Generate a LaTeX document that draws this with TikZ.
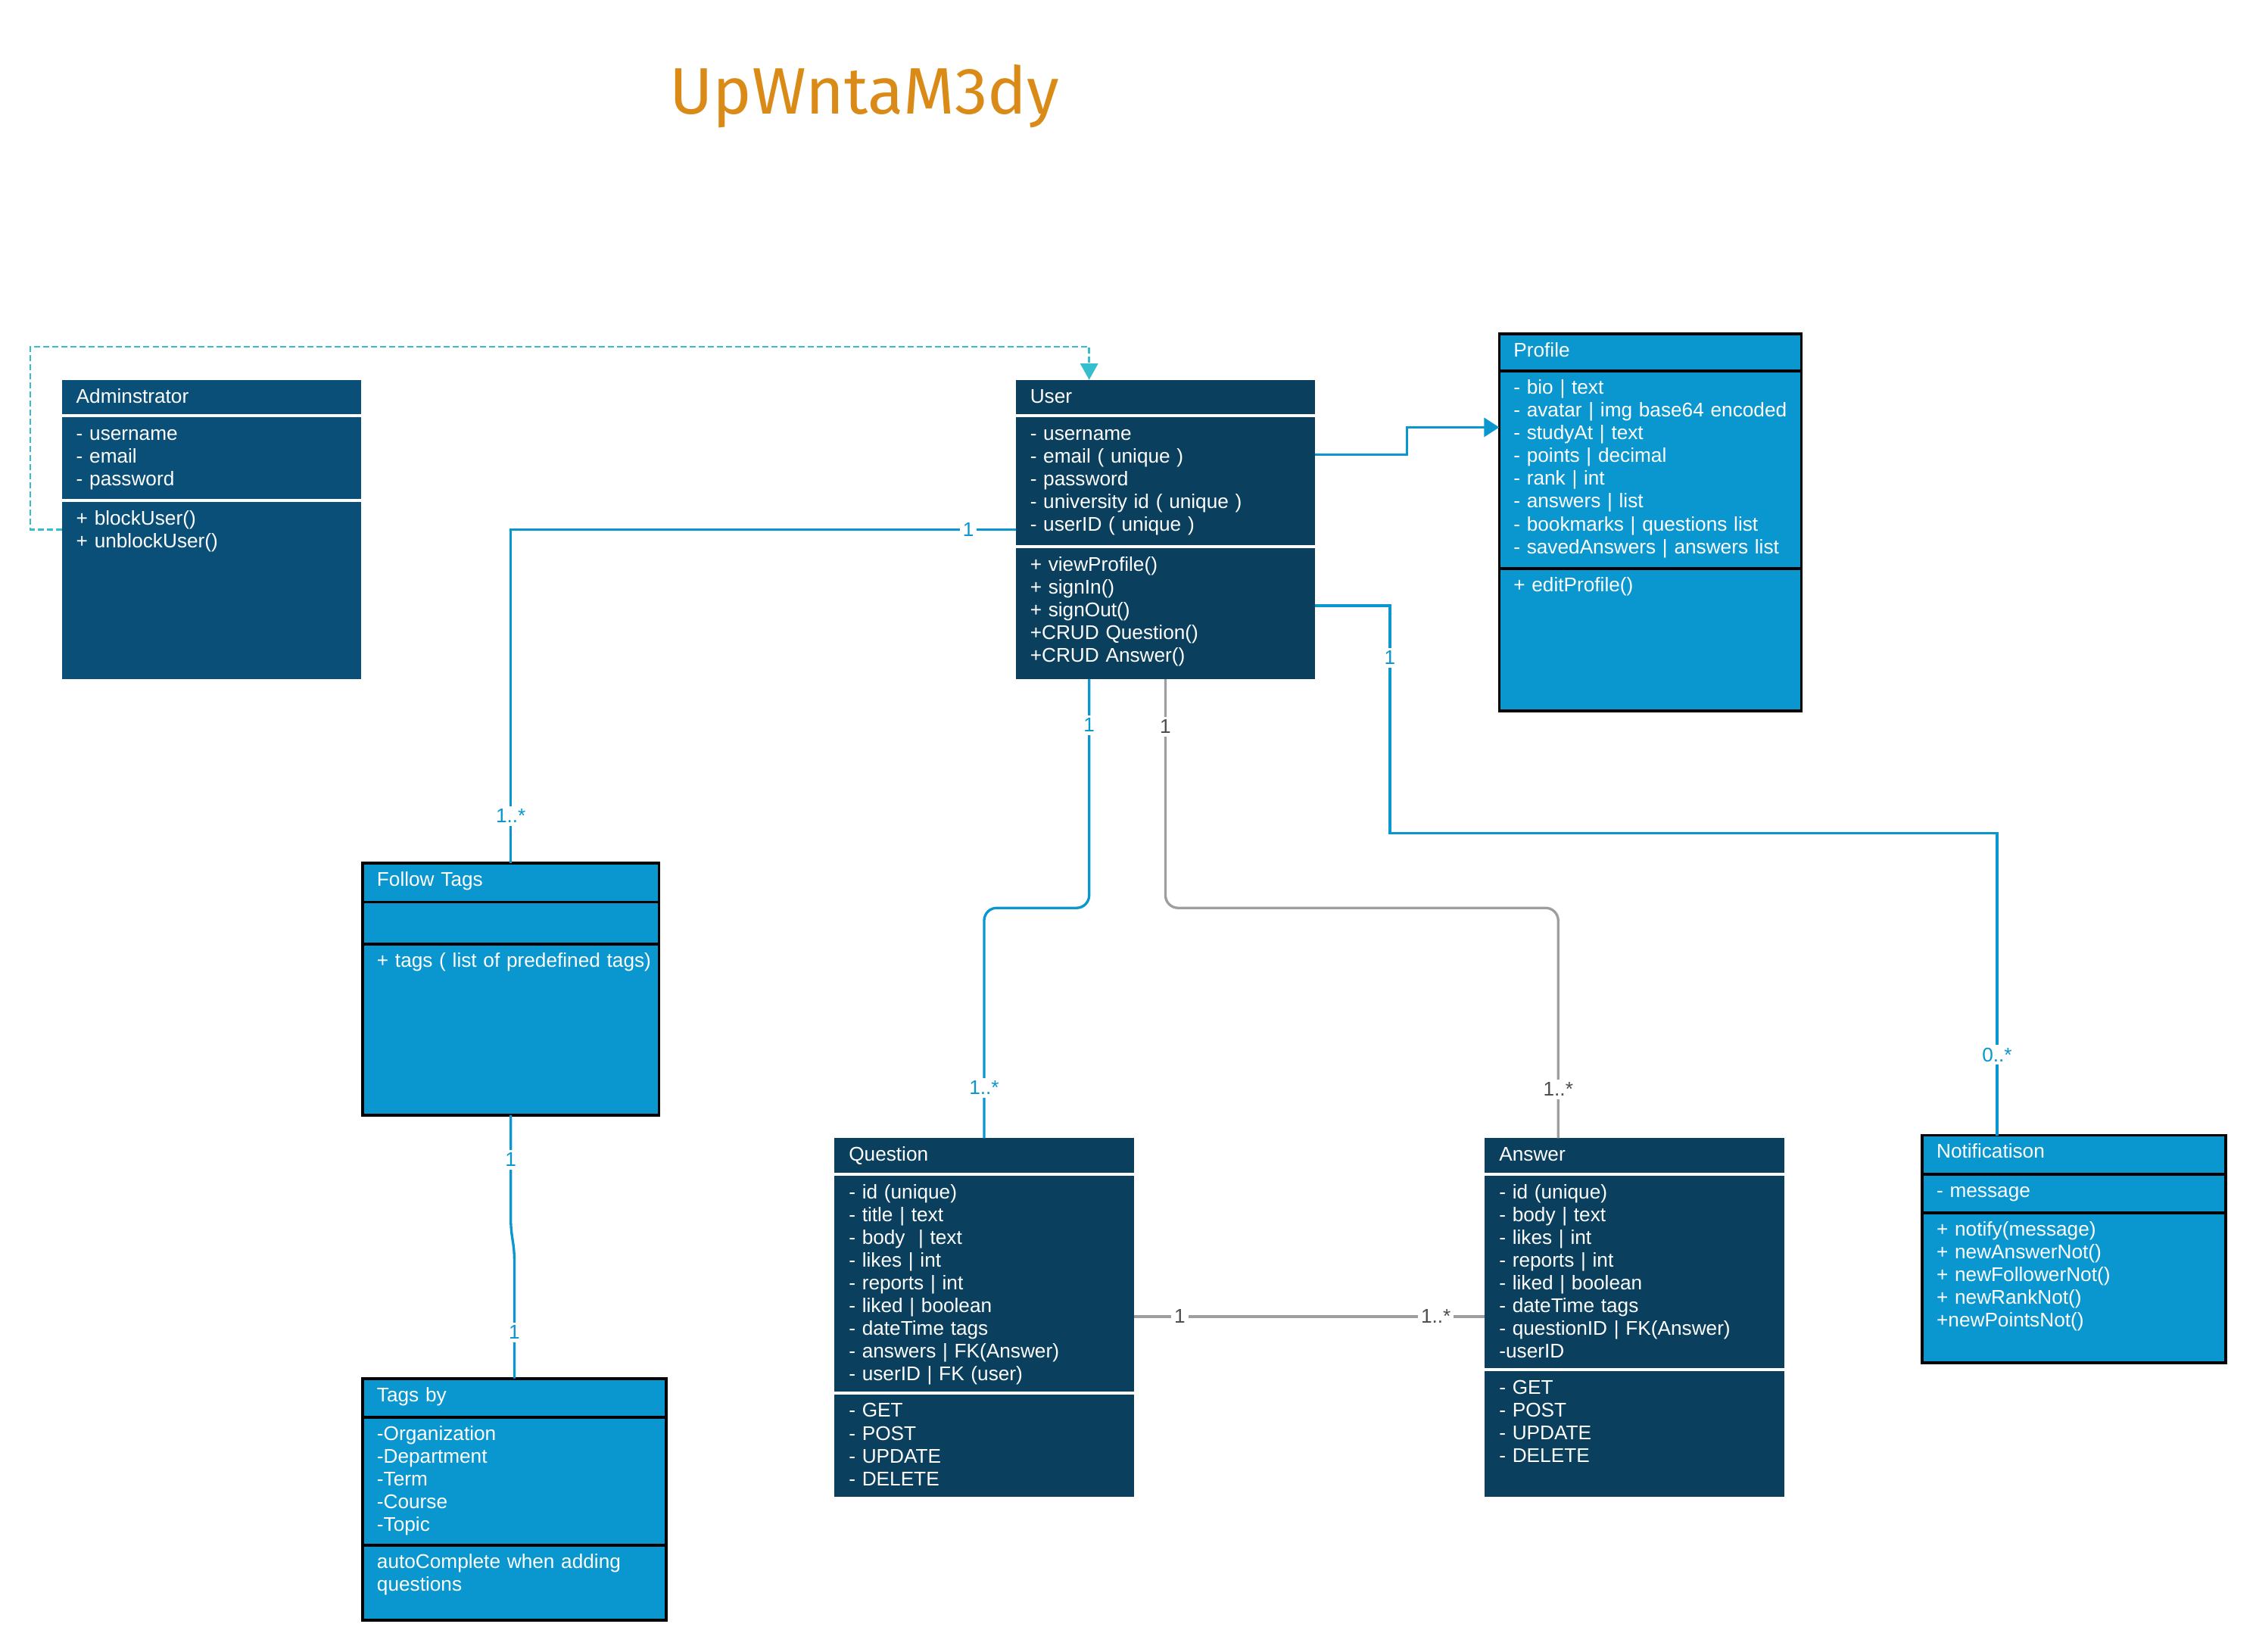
\documentclass[tikz,border=0pt]{standalone}
\usepackage{fontspec}
\setmainfont{Liberation Sans}
\newfontfamily\titlefont{Fira Sans}
\usepackage{tikz}
\usetikzlibrary{arrows.meta,positioning,calc}
\definecolor{umlNavy}{HTML}{0A3F5E}
\definecolor{umlSteel}{HTML}{0A4F78}
\definecolor{umlSky}{HTML}{0A96CE}
\definecolor{umlTeal}{HTML}{36BECF}
\definecolor{umlGrey}{HTML}{9E9E9E}
\definecolor{umlInk}{HTML}{4D4D4D}
\definecolor{titleOrange}{HTML}{DA8A17}
\tikzset{
  uml/part/.style 2 args={anchor=north west, outer sep=0pt, inner xsep=0.05cm, inner ysep=2.8pt,
    minimum width=#1*0.02cm, text width=#1*0.02cm-0.1cm, align=left,
    text height=6.3pt, text depth=#2*0.02cm-11.9pt, text=white,
    execute at begin node={\leftskip=0.15cm\hyphenpenalty=10000},
    font=\fontsize{7.85}{9}\selectfont},
  uml/dark/.style={fill=umlNavy},
  uml/steel/.style={fill=umlSteel},
  uml/light/.style={fill=umlSky, draw=black, line width=1.1pt},
  uml/link/.style={umlSky, line width=1pt},
  uml/assoc/.style={umlGrey, line width=1pt},
  uml/depend/.style={umlTeal, line width=0.8pt, dash pattern=on 2.4pt off 1.2pt, -{Triangle[length=6.5pt,width=7pt]}},
  uml/nav/.style={uml/link, -{Triangle[length=6pt,width=7.5pt]}},
  uml/mult/.style={font=\fontsize{7.85}{9}\selectfont, fill=white, inner sep=1.2pt, text=umlSky},
  uml/multgrey/.style={uml/mult, text=umlInk}
}

\begin{document}
\begin{tikzpicture}[x=0.02cm, y=-0.02cm]
  \useasboundingbox (0,0) rectangle (1568,1148);
  \node[anchor=base west, inner sep=0pt, text=titleOrange, font=\titlefont\fontsize{26}{31}\selectfont] (title) at (465,79) {UpWntaM3dy};

  % classes
  \node[uml/part={208}{24}, uml/steel] (admin-h) at (43,264) {Adminstrator};
  \node[uml/part={208}{57}, uml/steel, below=0.04cm of admin-h] (admin-a) {- username\\- email\\- password};
  \node[uml/part={208}{123}, uml/steel, below=0.04cm of admin-a] (admin-m) {+ blockUser()\\+ unblockUser()};

  \node[uml/part={208}{24}, uml/dark] (user-h) at (706,264) {User};
  \node[uml/part={208}{89}, uml/dark, below=0.04cm of user-h] (user-a) {- username\\- email ( unique )\\- password\\- university id ( unique )\\- userID ( unique )};
  \node[uml/part={208}{91}, uml/dark, below=0.04cm of user-a] (user-m) {+ viewProfile()\\+ signIn()\\+ signOut()\\+CRUD Question()\\+CRUD Answer()};

  \node[uml/part={210}{26}, uml/light] (profile-h) at (1042,232) {Profile};
  \node[uml/part={210}{137}, uml/light, below=0pt of profile-h] (profile-a) {- bio | text\\- avatar | img base64 encoded\\- studyAt | text\\- points | decimal\\- rank | int\\- answers | list\\- bookmarks | questions list\\- savedAnswers | answers list};
  \node[uml/part={210}{99}, uml/light, below=0pt of profile-a] (profile-m) {+ editProfile()};

  \node[uml/part={206}{27}, uml/light] (follow-h) at (252,600) {Follow Tags};
  \node[uml/part={206}{29}, uml/light, below=0pt of follow-h] (follow-a) {};
  \node[uml/part={206}{119}, uml/light, below=0pt of follow-a] (follow-m) {+ tags ( list of predefined tags)};

  \node[uml/part={211}{27}, uml/light] (tagsby-h) at (252,958) {Tags by};
  \node[uml/part={211}{89}, uml/light, below=0pt of tagsby-h] (tagsby-a) {-Organization\\-Department\\-Term\\-Course\\-Topic};
  \node[uml/part={211}{52}, uml/light, below=0pt of tagsby-a] (tagsby-m) {autoComplete when adding\\questions};

  \node[uml/part={208}{24}, uml/dark] (question-h) at (580,791) {Question};
  \node[uml/part={208}{150}, uml/dark, below=0.04cm of question-h] (question-a) {- id (unique)\\- title | text\\- body\ \ | text\\- likes | int\\- reports | int\\- liked | boolean\\- dateTime tags\\- answers | FK(Answer)\\- userID | FK (user)};
  \node[uml/part={208}{71}, uml/dark, below=0.04cm of question-a] (question-m) {- GET\\- POST\\- UPDATE\\- DELETE};

  \node[uml/part={208}{24}, uml/dark] (answer-h) at (1032,791) {Answer};
  \node[uml/part={208}{134}, uml/dark, below=0.04cm of answer-h] (answer-a) {- id (unique)\\- body | text\\- likes | int\\- reports | int\\- liked | boolean\\- dateTime tags\\- questionID | FK(Answer)\\-userID};
  \node[uml/part={208}{87}, uml/dark, below=0.04cm of answer-a] (answer-m) {- GET\\- POST\\- UPDATE\\- DELETE};

  \node[uml/part={211}{27}, uml/light] (notif-h) at (1336,789) {Notificatison};
  \node[uml/part={211}{27}, uml/light, below=0pt of notif-h] (notif-a) {- message};
  \node[uml/part={211}{104}, uml/light, below=0pt of notif-a] (notif-m) {+ notify(message)\\+ newAnswerNot()\\+ newFollowerNot()\\+ newRankNot()\\+newPointsNot()};

  % connectors
  \draw[uml/depend] ($(admin-m.north west)+(0,19)$) -- ++(-22,0) |- ($(user-h.north west)+(51,-23)$) -- ($(user-h.north west)+(51,0)$);
  \draw[uml/link] ($(user-a.north west)+(0,78)$) -| (follow-h.north);
  \draw[uml/nav] ($(user-a.north east)+(0,26)$) -- ++(64,0) |- ($(profile-a.north west)+(0,39)$);
  \draw[uml/link] ($(user-m.north east)+(0,40)$) -| ($(user-m.north east)+(52,198)$) -| ($(notif-h.north west)+(52,0)$);
  \draw[uml/link, rounded corners=5pt] ($(user-m.south west)+(51,0)$) |- ($(question-h.north west)+(104,-160)$) -- ($(question-h.north west)+(104,0)$);
  \draw[uml/assoc, rounded corners=5pt] (user-m.south) |- ($(answer-h.north west)+(51,-160)$) -- ($(answer-h.north west)+(51,0)$);
  \draw[uml/assoc] ($(question-a.north east)+(0,98)$) -- ($(answer-a.north west)+(0,98)$);
  \draw[uml/link, rounded corners=3pt] (follow-m.south) -- ++(0,78) -- ($(tagsby-h.north)+(0,-88)$) -- (tagsby-h.north);

  % multiplicities
  \node[uml/mult] (m-uf1) at ($(user-a.north west)+(-33,78)$) {1};
  \node[uml/mult] (m-uf2) at ($(follow-h.north)+(0,-33)$) {1..*};
  \node[uml/mult] (m-un1) at ($(user-m.north east)+(52,76)$) {1};
  \node[uml/mult] (m-un2) at ($(notif-h.north west)+(52,-56)$) {0..*};
  \node[uml/mult] (m-uq1) at ($(user-m.south west)+(51,32)$) {1};
  \node[uml/mult] (m-uq2) at ($(question-h.north west)+(104,-35)$) {1..*};
  \node[uml/multgrey] (m-ua1) at ($(user-m.south)+(0,33)$) {1};
  \node[uml/multgrey] (m-ua2) at ($(answer-h.north west)+(51,-34)$) {1..*};
  \node[uml/multgrey] (m-qa1) at ($(question-a.north east)+(32,98)$) {1};
  \node[uml/multgrey] (m-qa2) at ($(answer-a.north west)+(-34,98)$) {1..*};
  \node[uml/mult] (m-ft1) at ($(follow-m.south)+(0,31)$) {1};
  \node[uml/mult] (m-ft2) at ($(tagsby-h.north)+(0,-32)$) {1};
\end{tikzpicture}
\end{document}
